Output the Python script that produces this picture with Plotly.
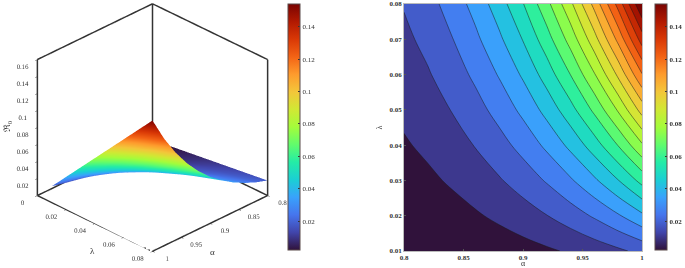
import plotly.graph_objects as go

alpha = [0.80, 0.82, 0.84, 0.86, 0.88, 0.90, 0.92, 0.94, 0.96, 0.98, 1.00]
lam = [0.01, 0.02, 0.03, 0.04, 0.05, 0.06, 0.07, 0.08]
r0 = [
    [.00221, .00275, .00348, .00439, .00551, .00685, .00851, .01049, .01290, .01579, .01925],
    [.00443, .00551, .00697, .00878, .01101, .01371, .01702, .02098, .02580, .03157, .03850],
    [.00664, .00826, .01045, .01317, .01652, .02056, .02553, .03147, .03869, .04736, .05775],
    [.00886, .01101, .01394, .01756, .02202, .02741, .03403, .04197, .05159, .06314, .07700],
    [.01107, .01376, .01742, .02195, .02753, .03427, .04254, .05246, .06449, .07893, .09625],
    [.01328, .01652, .02091, .02633, .03303, .04112, .05105, .06295, .07739, .09471, .11550],
    [.01550, .01927, .02439, .03072, .03854, .04797, .05956, .07344, .09028, .11050, .13475],
    [.01771, .02202, .02787, .03511, .04404, .05482, .06807, .08393, .10318, .12628, .15400],
]
alpha_ticks = [0.8, 0.85, 0.9, 0.95, 1]
alpha_labels = ["0.8", "0.85", "0.9", "0.95", "1"]
lam3d_ticks = [0, 0.02, 0.04, 0.06, 0.08]
lam3d_labels = ["0", "0.02", "0.04", "0.06", "0.08"]
lam2d_ticks = [0.01, 0.02, 0.03, 0.04, 0.05, 0.06, 0.07, 0.08]
lam2d_labels = ["0.01", "0.02", "0.03", "0.04", "0.05", "0.06", "0.07", "0.08"]
z_ticks = [0, 0.02, 0.04, 0.06, 0.08, 0.1, 0.12, 0.14, 0.16]
z_labels = ["0", "0.02", "0.04", "0.06", "0.08", "0.1", "0.12", "0.14", "0.16"]
cb_ticks = [0.02, 0.04, 0.06, 0.08, 0.1, 0.12, 0.14]
cb_labels = ["0.02", "0.04", "0.06", "0.08", "0.1", "0.12", "0.14"]
cmin, cmax = 0.0022, 0.154
a0, a1 = 0.8, 1.0
l0, l1 = 0.0, 0.08
z0, z1 = 0.0, 0.16

W, H = 685, 268
SERIF = "Liberation Serif"
TXT = "#333333"


def colorbar(left_px, weight):
    return dict(
        x=left_px / W, xanchor="left", xpad=0,
        y=1 - 4 / H, yanchor="top", ypad=0, len=246 / H, lenmode="fraction",
        thickness=12, thicknessmode="pixels",
        outlinecolor="#5a4a4a", outlinewidth=1, borderwidth=0,
        tickmode="array", tickvals=cb_ticks, ticktext=cb_labels,
        ticks="inside", ticklen=2, tickwidth=0.5, tickcolor="#333333",
        tickfont=dict(family=SERIF, size=7, color=TXT, weight=weight),
    )


fig = go.Figure()

fig.add_trace(go.Surface(
    x=alpha, y=lam, z=r0, colorscale="Turbo", cmin=cmin, cmax=cmax,
    lighting=dict(ambient=1, diffuse=0, specular=0, fresnel=0, roughness=1),
    colorbar=colorbar(288, 400), hoverinfo="skip", scene="scene",
))

fx = [a1, a1, a0, None, a1, a0, a0, None, a1, a1, None, a0, a0, None, a0, a0, None, a1, a0, a0]
fy = [l0, l1, l1, None, l0, l0, l1, None, l0, l0, None, l1, l1, None, l0, l0, None, l0, l0, l1]
fz = [z0, z0, z0, None, z0, z0, z0, None, z0, z1, None, z0, z1, None, z0, z1, None, z1, z1, z1]
fig.add_trace(go.Scatter3d(
    x=fx, y=fy, z=fz, mode="lines", line=dict(color="#333333", width=3),
    hoverinfo="skip", showlegend=False, scene="scene",
))

fig.add_trace(go.Contour(
    x=alpha, y=lam, z=r0, colorscale="Turbo", showscale=False,
    autocontour=False,
    contours=dict(start=0.0096, end=0.1464, size=0.0076, coloring="fill", showlines=True),
    line=dict(color="#1a1a1a", width=0.5, smoothing=1),
    hoverinfo="skip", xaxis="x", yaxis="y",
))
fig.add_trace(go.Scatter(
    x=[None], y=[None], mode="markers",
    marker=dict(color=[cmin, cmax], cmin=cmin, cmax=cmax, colorscale="Turbo",
                showscale=True, colorbar=colorbar(655, 700)),
    hoverinfo="skip", showlegend=False, xaxis="x", yaxis="y",
))


def ax3(vals, labels, rng):
    return dict(
        title=dict(text=""),
        range=rng, tickmode="array", tickvals=vals, ticktext=labels,
        tickfont=dict(family=SERIF, size=9, color=TXT), tickangle=0,
        showgrid=False, zeroline=False, showbackground=False, showspikes=False,
        showline=False, ticks="outside", ticklen=3, tickcolor="#333333", tickwidth=1,
    )


def label3d(text, x_px, y_px, angle=0):
    return dict(text=text, x=x_px / W, y=1 - y_px / H, xref="paper", yref="paper",
                xanchor="center", yanchor="middle", showarrow=False, textangle=angle,
                font=dict(family=SERIF, size=9, color=TXT))


fig.update_layout(
    width=W, height=H, margin=dict(l=0, r=0, t=0, b=0, autoexpand=False),
    paper_bgcolor="white", plot_bgcolor="white", showlegend=False,
    annotations=[
        label3d("ℜ<sub>0</sub>", 7, 127, -90),
        label3d("λ", 92, 251),
        label3d("α", 212, 252),
    ],
    scene=dict(
        domain=dict(x=[0, 0.445], y=[0, 1]),
        xaxis=ax3(alpha_ticks, alpha_labels, [a0, a1]),
        yaxis=ax3(lam3d_ticks, lam3d_labels, [l0, l1]),
        zaxis=ax3(z_ticks, z_labels, [z0, z1]),
        aspectmode="manual", aspectratio=dict(x=1.215, y=1.215, z=1.16),
        camera=dict(projection=dict(type="orthographic"),
                    eye=dict(x=0.92, y=0.92, z=0.665), center=dict(x=0, y=0, z=-0.055),
                    up=dict(x=0, y=0, z=1)),
    ),
    xaxis=dict(
        domain=[404 / W, 642 / W], range=[a0, a1], anchor="y",
        tickmode="array", tickvals=alpha_ticks, ticktext=alpha_labels,
        tickfont=dict(family=SERIF, size=7, color=TXT, weight=700),
        ticks="inside", ticklen=2, tickcolor="#555555", tickwidth=0.5,
        showgrid=False, zeroline=False, showline=True, linecolor="#bbbbbb", linewidth=0.5, mirror=True,
        title=dict(text="α", font=dict(family=SERIF, size=8, color=TXT), standoff=3),
    ),
    yaxis=dict(
        domain=[1 - 251 / H, 1 - 4 / H], range=[0.01, 0.08], anchor="x",
        tickmode="array", tickvals=lam2d_ticks, ticktext=lam2d_labels,
        tickfont=dict(family=SERIF, size=7, color=TXT, weight=700),
        ticks="inside", ticklen=2, tickcolor="#555555", tickwidth=0.5,
        showgrid=False, zeroline=False, showline=True, linecolor="#bbbbbb", linewidth=0.5, mirror=True,
        title=dict(text="λ", font=dict(family=SERIF, size=8, color=TXT), standoff=5),
    ),
)

fig.write_html("out.html", config=dict(displayModeBar=False),
               post_script="document.body.style.margin='0';document.body.style.overflow='hidden';")
